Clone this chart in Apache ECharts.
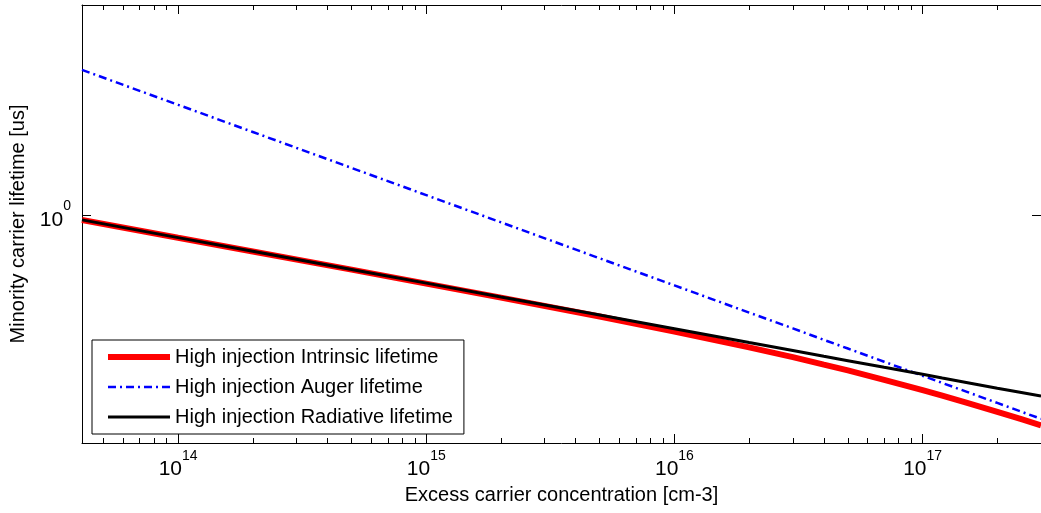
<!DOCTYPE html>
<html>
<head>
<meta charset="utf-8">
<script src="https://cdn.jsdelivr.net/npm/echarts@6/dist/echarts.min.js"></script>
<style>
html,body{margin:0;padding:0;background:#fff;}
#chart{width:1041px;height:513px;}
</style>
</head>
<body>
<div id="chart"></div>
<script>
// Excess carrier concentration [cm-3]
var carrierConc = [4.1e13, 1e14, 2e14, 5e14, 1e15, 2e15, 5e15, 1e16, 2e16, 3e16, 4e16, 5e16, 7e16, 1e17, 1.2e17, 1.5e17, 2e17, 2.5e17, 3e17];
// Lifetimes [us]
var intrinsicLifetime = [0.955, 0.8115, 0.7151, 0.6048, 0.5316, 0.4673, 0.3926, 0.3417, 0.2954, 0.2702, 0.2521, 0.2390, 0.2192, 0.1995, 0.1895, 0.1777, 0.1632, 0.1525, 0.1441];
var augerLifetime = [3.806, 2.759, 2.148, 1.543, 1.201, 0.935, 0.671, 0.523, 0.407, 0.3522, 0.3168, 0.2924, 0.2589, 0.2276, 0.2130, 0.1966, 0.1772, 0.1634, 0.1531];
var radiativeLifetime = [0.956, 0.812, 0.716, 0.606, 0.534, 0.470, 0.398, 0.351, 0.309, 0.2873, 0.2724, 0.2615, 0.2459, 0.2306, 0.2229, 0.2140, 0.2030, 0.1950, 0.1886];

var seriesNames = ['High injection Intrinsic lifetime', 'High injection Auger lifetime', 'High injection Radiative lifetime'];
var xMajorTicks = [1e14, 1e15, 1e16, 1e17];
var xMinorTicks = [5e13, 6e13, 7e13, 8e13, 9e13,
  2e14, 3e14, 4e14, 5e14, 6e14, 7e14, 8e14, 9e14,
  2e15, 3e15, 4e15, 5e15, 6e15, 7e15, 8e15, 9e15,
  2e16, 3e16, 4e16, 5e16, 6e16, 7e16, 8e16, 9e16,
  2e17];
var yMajorTicks = [1];
var xRange = [4.1e13, 3e17];
var yRange = [0.1225, 6.918];

function pairs(xs, ys) { return xs.map(function (x, i) { return [x, ys[i]]; }); }

var FONT = 'Liberation Sans, Arial, Helvetica, sans-serif';
var richLabel = {
  b: { fontSize: 21, fontFamily: FONT, color: '#000', verticalAlign: 'bottom', lineHeight: 31 },
  s: { fontSize: 14, fontFamily: FONT, color: '#000', verticalAlign: 'top', lineHeight: 31 }
};
function expLabel(v) {
  var e = Math.round(Math.log(v) / Math.LN10);
  return '{b|10}{s|' + e + '}';
}

function xAxisDef(pos, major, withLabels) {
  return {
    type: 'log', position: pos, min: xRange[0], max: xRange[1],
    axisLine: { show: major, onZero: false, lineStyle: { color: '#000', width: 1 } },
    axisTick: { show: true, inside: true, length: major ? 9 : 5, customValues: major ? xMajorTicks : xMinorTicks, lineStyle: { color: '#000', width: 1 } },
    axisLabel: { show: withLabels, customValues: xMajorTicks, formatter: expLabel, rich: richLabel, margin: 6 },
    splitLine: { show: false }, minorTick: { show: false }
  };
}

var chart = echarts.init(document.getElementById('chart'), null, { renderer: 'canvas' });
var option = {
  animation: false,
  backgroundColor: '#fff',
  grid: { left: 82, top: 5, right: -6, bottom: 70, containLabel: false },
  xAxis: [
    Object.assign(xAxisDef('bottom', true, true), {
      name: 'Excess carrier concentration [cm-3]', nameLocation: 'middle', nameGap: 42,
      nameTextStyle: { fontSize: 20, fontFamily: FONT, color: '#000' }
    }),
    xAxisDef('bottom', false, false),
    xAxisDef('top', true, false),
    xAxisDef('top', false, false)
  ],
  yAxis: [
    {
      type: 'log', position: 'left', min: yRange[0], max: yRange[1],
      name: 'Minority carrier lifetime [us]', nameLocation: 'middle', nameGap: 52,
      nameTextStyle: { fontSize: 20, fontFamily: FONT, color: '#000' },
      axisLine: { show: true, onZero: false, lineStyle: { color: '#000', width: 1 } },
      axisTick: { show: true, inside: true, length: 9, customValues: yMajorTicks, lineStyle: { color: '#000' } },
      axisLabel: { show: true, customValues: yMajorTicks, formatter: expLabel, rich: richLabel, margin: 11 },
      splitLine: { show: false }
    },
    {
      type: 'log', position: 'right', min: yRange[0], max: yRange[1],
      axisLine: { show: true, onZero: false, lineStyle: { color: '#000', width: 1 } },
      axisTick: { show: true, inside: true, length: 9, customValues: yMajorTicks, lineStyle: { color: '#000' } },
      axisLabel: { show: false },
      splitLine: { show: false }
    }
  ],
  legend: {
    orient: 'vertical', left: 92, top: 340,
    backgroundColor: '#fff', borderColor: '#000', borderWidth: 1,
    padding: [7, 11, 7, 13],
    itemWidth: 62, itemHeight: 20, itemGap: 10,
    itemStyle: { color: 'rgba(0,0,0,0)', borderWidth: 0, opacity: 0 },
    lineStyle: { width: 'inherit', type: 'inherit', color: 'inherit' },
    textStyle: { fontSize: 20, fontFamily: FONT, color: '#000', lineHeight: 20 },
    data: seriesNames
  },
  series: [
    { name: seriesNames[0], type: 'line', xAxisIndex: 0, yAxisIndex: 0, symbol: 'none', smooth: false,
      data: pairs(carrierConc, intrinsicLifetime), lineStyle: { color: '#ff0000', width: 6 }, itemStyle: { color: '#ff0000' } },
    { name: seriesNames[1], type: 'line', xAxisIndex: 0, yAxisIndex: 0, symbol: 'none', smooth: false,
      data: pairs(carrierConc, augerLifetime), lineStyle: { color: '#0000ff', width: 2.5, type: [8, 4, 2, 4] }, itemStyle: { color: '#0000ff' } },
    { name: seriesNames[2], type: 'line', xAxisIndex: 0, yAxisIndex: 0, symbol: 'none', smooth: false,
      data: pairs(carrierConc, radiativeLifetime), lineStyle: { color: '#000000', width: 3 }, itemStyle: { color: '#000000' } }
  ]
};
chart.setOption(option);
</script>
</body>
</html>
